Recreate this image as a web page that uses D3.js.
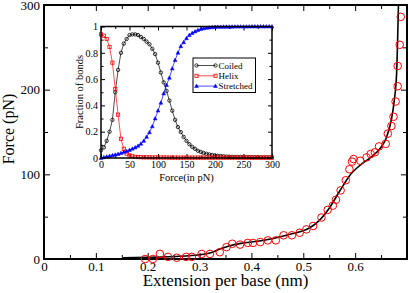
<!DOCTYPE html>
<html lang="en">
<head>
    <meta charset="UTF-8">
    <title>Force vs extension</title>
    <script src="https://d3js.org/d3.v7.min.js"></script>
    <style>
        body { margin: 0; background: #fff; }
        svg { display: block; }
    </style>
</head>
<body>
<svg width="409" height="293" font-family="Liberation Serif"></svg>
<script>
    // main plot: simulation points (red circles)
    const extension = [0.195, 0.210, 0.2235, 0.239, 0.256, 0.274, 0.285, 0.304, 0.320, 0.339,
        0.352, 0.363, 0.378, 0.393, 0.403, 0.417, 0.4316, 0.447, 0.462, 0.478,
        0.493, 0.506, 0.519, 0.535, 0.547, 0.557, 0.563, 0.572, 0.582, 0.589,
        0.594, 0.597, 0.610, 0.622, 0.630, 0.638, 0.646, 0.659, 0.663, 0.670,
        0.674, 0.678, 0.682, 0.682, 0.686, 0.688];
    const force = [0, 0, 6, 2.5, 1.5, 2.5, 2.5, 6, 6, 8,
        14, 18, 17, 19, 19, 20, 22, 22, 28, 28,
        31, 35, 39, 49, 58, 63, 70, 81, 93, 106,
        115, 118, 116, 120, 124, 126, 133, 136, 148, 157,
        168, 186, 204, 228, 253, 286];

    // main plot: fitted curve (black line)
    const fitExtension = [0.152, 0.2, 0.25, 0.3, 0.32, 0.34, 0.36, 0.38, 0.40, 0.44, 0.48, 0.51,
        0.53, 0.55, 0.57, 0.59, 0.61, 0.63, 0.65, 0.66, 0.67, 0.675, 0.68, 0.6835];
    const fitForce = [1.5, 2, 3, 5, 7, 12, 16, 18.5, 20, 24, 30, 36,
        45, 60, 80, 99, 111, 120, 132, 143, 165, 185, 220, 300];

    // inset: fraction of bonds vs force
    const pull = [0, 5, 10, 15, 20, 25, 30, 35, 40, 45, 50, 55, 60, 65, 70, 75, 80, 85, 90, 95,
        100, 105, 110, 115, 120, 125, 130, 135, 140, 145, 150, 155, 160, 165, 170, 175, 180, 185, 190, 195,
        200, 205, 210, 215, 220, 225, 230, 235, 240, 245, 250, 255, 260, 265, 270, 275, 280, 285, 290, 295, 300];
    const coiled = [0.058, 0.08, 0.13, 0.2, 0.29, 0.5, 0.67, 0.8, 0.87, 0.905,
        0.935, 0.94, 0.94, 0.935, 0.92, 0.905, 0.885, 0.865, 0.83, 0.79,
        0.725, 0.65, 0.575, 0.51, 0.437, 0.36, 0.29, 0.235, 0.197, 0.16,
        0.13, 0.105, 0.085, 0.07, 0.055, 0.046, 0.038, 0.032, 0.027, 0.023,
        0.02, 0.017, 0.015, 0.013, 0.011, 0.01, 0.009, 0.008, 0.008, 0.008,
        0.008, 0.007, 0.007, 0.006, 0.006, 0.006, 0.005, 0.005, 0.005, 0.005, 0.005];
    const helix = [0.94, 0.93, 0.905, 0.845, 0.725, 0.525, 0.33, 0.146, 0.07, 0.033,
        0.02, 0.013, 0.009, 0.007, 0.006, 0.005, 0.005, 0.005, 0.004, 0.004,
        0.004, 0.004, 0.004, 0.004, 0.003, 0.003, 0.003, 0.003, 0.003, 0.003,
        0.003, 0.003, 0.003, 0.003, 0.003, 0.003, 0.003, 0.003, 0.003, 0.003,
        0.003, 0.003, 0.003, 0.003, 0.003, 0.003, 0.003, 0.003, 0.003, 0.003,
        0.003, 0.003, 0.003, 0.003, 0.003, 0.003, 0.003, 0.003, 0.003, 0.003, 0.003];
    const stretched = [0, 0.005, 0.01, 0.015, 0.02, 0.025, 0.03, 0.037, 0.044, 0.052,
        0.06, 0.07, 0.08, 0.092, 0.108, 0.13, 0.16, 0.195, 0.24, 0.3,
        0.36, 0.42, 0.49, 0.555, 0.61, 0.68, 0.745, 0.8, 0.85, 0.88,
        0.91, 0.935, 0.95, 0.962, 0.972, 0.98, 0.985, 0.989, 0.992, 0.994,
        0.996, 0.997, 0.997, 0.998, 0.998, 0.998, 0.998, 0.999, 0.999, 0.999,
        0.999, 0.999, 0.999, 1, 1, 1, 1, 1, 1, 1, 1];

    const xTicks = [0, 0.1, 0.2, 0.3, 0.4, 0.5, 0.6, 0.7];
    const xMinor = [0.05, 0.15, 0.25, 0.35, 0.45, 0.55, 0.65];
    const yTicks = [0, 100, 200, 300];
    const yMinor = [50, 150, 250];
    const insetXTicks = [0, 50, 100, 150, 200, 250, 300];
    const insetXMinor = [25, 75, 125, 175, 225, 275];
    const insetYTicks = [0, 0.2, 0.4, 0.6, 0.8, 1];
    const insetYMinor = [0.1, 0.3, 0.5, 0.7, 0.9];

    const FONT = "Liberation Serif";
    const svg = d3.select("svg");

    const x = d3.scaleLinear().domain([0, 0.7]).range([44, 407]);
    const y = d3.scaleLinear().domain([0, 300]).range([259, 5]);

    const numFmt = d => (d === 0 ? "0" : d3.format(".1f")(d));

    // tick helper: ticks point inward, no domain path; labels only when fmt is given
    function ticks(g, axis, vals, size, fmt, pad, fontSize) {
        g.call(axis.tickValues(vals).tickSize(-size).tickPadding(pad || 3)
                .tickFormat(fmt || (() => "")))
            .attr("font-family", FONT);
        g.select(".domain").remove();
        g.selectAll("line").attr("stroke", "#000").attr("stroke-width", 1);
        if (fmt) {
            g.selectAll("text").attr("font-size", fontSize).attr("font-family", FONT).attr("fill", "#000");
        } else {
            g.selectAll("text").remove();
        }
    }

    const main = svg.append("g");
    ticks(main.append("g").attr("transform", "translate(0,259)"), d3.axisBottom(x),
        xTicks.filter(d => d < 0.65), 6, numFmt, 3, 13);
    ticks(main.append("g").attr("transform", "translate(0,259)"), d3.axisBottom(x), xMinor.concat([0.7]), 4);
    ticks(main.append("g").attr("transform", "translate(0,5)"), d3.axisTop(x), xTicks, 6);
    ticks(main.append("g").attr("transform", "translate(0,5)"), d3.axisTop(x), xMinor, 4);
    ticks(main.append("g").attr("transform", "translate(44,0)"), d3.axisLeft(y),
        yTicks, 6, d => d, 4, 13);
    ticks(main.append("g").attr("transform", "translate(44,0)"), d3.axisLeft(y), yMinor, 4);
    ticks(main.append("g").attr("transform", "translate(407,0)"), d3.axisRight(y), yTicks, 6);
    ticks(main.append("g").attr("transform", "translate(407,0)"), d3.axisRight(y), yMinor, 4);

    main.append("rect")
        .attr("x", 44).attr("y", 5).attr("width", 363).attr("height", 254)
        .attr("fill", "none").attr("stroke", "#000").attr("stroke-width", 2);

    main.append("text")
        .attr("x", 225.5).attr("y", 286)
        .attr("text-anchor", "middle").attr("font-size", 17).attr("font-family", FONT)
        .text("Extension per base (nm)");
    main.append("text")
        .attr("transform", "translate(14,129) rotate(-90)")
        .attr("text-anchor", "middle").attr("font-size", 16).attr("font-family", FONT)
        .text("Force (pN)");

    const fitLine = d3.line()
        .x(i => x(fitExtension[i]))
        .y(i => y(fitForce[i]))
        .curve(d3.curveMonotoneX);
    main.append("path")
        .attr("d", fitLine(d3.range(fitExtension.length)))
        .attr("fill", "none").attr("stroke", "#000").attr("stroke-width", 1.6);

    main.append("g").selectAll("circle")
        .data(d3.range(extension.length))
        .enter().append("circle")
        .attr("cx", i => x(extension[i]))
        .attr("cy", i => y(force[i]))
        .attr("r", 3.8)
        .attr("fill", "none").attr("stroke", "#ff0000").attr("stroke-width", 1);

    // inset
    const xi = d3.scaleLinear().domain([0, 300]).range([101, 272]);
    const yi = d3.scaleLinear().domain([0, 1]).range([158, 26.5]);
    const inset = svg.append("g");

    inset.append("rect")
        .attr("x", 101).attr("y", 26.5).attr("width", 171).attr("height", 131.5)
        .attr("fill", "#fff");

    const insetFmt = d => (d === 0 || d === 1 ? String(d) : d3.format(".1f")(d));
    ticks(inset.append("g").attr("transform", "translate(0,158)"), d3.axisBottom(xi),
        insetXTicks, 4, d => d, 3, 10);
    ticks(inset.append("g").attr("transform", "translate(0,158)"), d3.axisBottom(xi), insetXMinor, 2.5);
    ticks(inset.append("g").attr("transform", "translate(0,26.5)"), d3.axisTop(xi), insetXTicks, 4);
    ticks(inset.append("g").attr("transform", "translate(0,26.5)"), d3.axisTop(xi), insetXMinor, 2.5);
    ticks(inset.append("g").attr("transform", "translate(101,0)"), d3.axisLeft(yi),
        insetYTicks, 4, insetFmt, 3, 10);
    ticks(inset.append("g").attr("transform", "translate(101,0)"), d3.axisLeft(yi), insetYMinor, 2.5);
    ticks(inset.append("g").attr("transform", "translate(272,0)"), d3.axisRight(yi), insetYTicks, 4);
    ticks(inset.append("g").attr("transform", "translate(272,0)"), d3.axisRight(yi), insetYMinor, 2.5);

    inset.append("text")
        .attr("x", 186.5).attr("y", 181)
        .attr("text-anchor", "middle").attr("font-size", 10.5).attr("font-family", FONT)
        .text("Force(in pN)");
    inset.append("text")
        .attr("transform", "translate(83,92) rotate(-90)")
        .attr("text-anchor", "middle").attr("font-size", 10.5).attr("font-family", FONT)
        .text("Fraction of bonds");

    const series = [
        {name: "Coiled", values: coiled, color: "#000000", shape: "circle"},
        {name: "Helix", values: helix, color: "#ff0000", shape: "square"},
        {name: "Stretched", values: stretched, color: "#0000ff", shape: "triangle"}
    ];

    function marker(g, shape, color, cx, cy) {
        if (shape === "circle") {
            g.append("circle").attr("cx", cx).attr("cy", cy).attr("r", 1.7)
                .attr("fill", "none").attr("stroke", color).attr("stroke-width", 0.8);
        } else if (shape === "square") {
            g.append("rect").attr("x", cx - 1.6).attr("y", cy - 1.6)
                .attr("width", 3.2).attr("height", 3.2)
                .attr("fill", "none").attr("stroke", color).attr("stroke-width", 0.8);
        } else {
            g.append("path")
                .attr("d", `M${cx},${cy - 2}L${cx + 1.9},${cy + 1.4}L${cx - 1.9},${cy + 1.4}Z`)
                .attr("fill", color).attr("stroke", color).attr("stroke-width", 0.5);
        }
    }

    const plotArea = inset.append("g");
    series.forEach(s => {
        const line = d3.line().x((d, i) => xi(pull[i])).y(d => yi(d));
        plotArea.append("path")
            .attr("d", line(s.values))
            .attr("fill", "none").attr("stroke", s.color).attr("stroke-width", 0.7);
        const mg = plotArea.append("g");
        s.values.forEach((v, i) => marker(mg, s.shape, s.color, xi(pull[i]), yi(v)));
    });

    inset.append("rect")
        .attr("x", 101).attr("y", 26.5).attr("width", 171).attr("height", 131.5)
        .attr("fill", "none").attr("stroke", "#000").attr("stroke-width", 1.5);

    // legend
    const legend = inset.append("g");
    legend.append("rect")
        .attr("x", 193).attr("y", 58).attr("width", 62.5).attr("height", 34.5)
        .attr("fill", "#fff").attr("stroke", "#000").attr("stroke-width", 1);
    series.forEach((s, k) => {
        const ly = 65.5 + k * 10.3;
        legend.append("line")
            .attr("x1", 196.5).attr("x2", 215.5).attr("y1", ly).attr("y2", ly)
            .attr("stroke", s.color).attr("stroke-width", 0.7);
        marker(legend, s.shape, s.color, 196.5, ly);
        marker(legend, s.shape, s.color, 215.5, ly);
        legend.append("text")
            .attr("x", 218.5).attr("y", ly + 3.2)
            .attr("font-size", 9).attr("font-family", FONT)
            .text(s.name);
    });
</script>
</body>
</html>
